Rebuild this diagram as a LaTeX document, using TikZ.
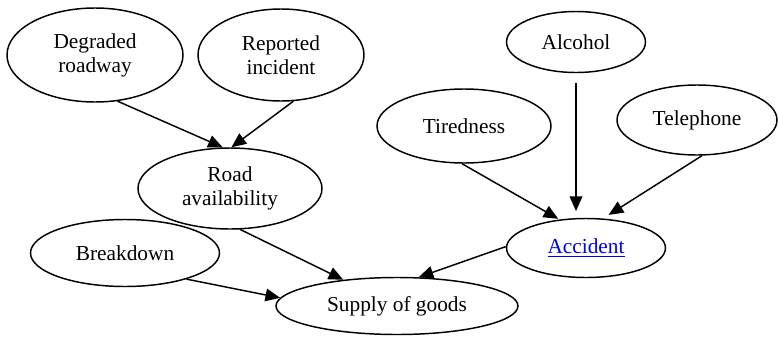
\documentclass[tikz,border=0pt]{standalone}
\usepackage{fontspec}
\setmainfont{Liberation Serif}
\usepackage{xcolor}
\usetikzlibrary{shapes.geometric,arrows.meta}
\definecolor{linkb}{rgb}{0,0,0.93}
\tikzset{
  bn/.style={ellipse,draw=black,line width=1.1pt,inner sep=0pt,align=center,
    font=\fontsize{16}{18}\selectfont},
  ed/.style={line width=1.1pt,-{Triangle[length=11pt,width=9.5pt]}}
}

\begin{document}
\begin{tikzpicture}[x=0.75pt,y=-0.75pt]
\useasboundingbox (0,0) rectangle (778,336);
\node[bn,minimum width=132pt,minimum height=70.5pt] (1) at (95,55) {Degraded\\roadway};
  \node[bn,minimum width=124.5pt,minimum height=69pt] (2) at (281,55) {Reported\\incident};
  \node[bn,minimum width=138pt,minimum height=60.75pt] (3) at (230,188.5) {Road\\availability};
  \node[bn,minimum width=104.25pt,minimum height=45.75pt] (4) at (576,42) {Alcohol};
  \node[bn,minimum width=130.5pt,minimum height=55.5pt] (5) at (464,126) {Tiredness};
  \node[bn,minimum width=120pt,minimum height=52.5pt] (6) at (697,120) {Telephone};
  \node[bn,minimum width=119.25pt,minimum height=44.25pt,text=linkb] (7) at (586,248) {\underline{Accident}};
  \node[bn,minimum width=141.75pt,minimum height=50.25pt] (8) at (125,253) {Breakdown};
  \node[bn,minimum width=181.5pt,minimum height=42.75pt] (9) at (397,306) {Supply of goods};
\draw[ed] (1.-64) to (3.100);
\draw[ed] (2.-75) to (3.88);
\draw[ed,shorten <=7pt,shorten >=5pt] (4.south) to (4.south |- 7.north);
\draw[ed,shorten >=1pt] (5.-93) to (7.133);
\draw[ed,shorten >=5pt] (6.-82) to (7.60);
\draw[ed] (3.-76) to (9.154);
\draw[ed] (8.-23) to (9.176);
\draw[ed] (7.179) to (9.53);
\end{tikzpicture}
\end{document}
